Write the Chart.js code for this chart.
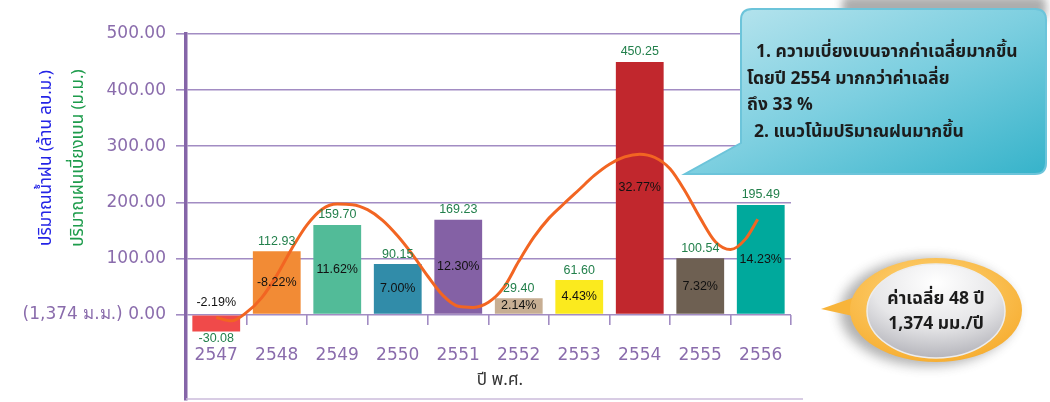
<!DOCTYPE html>
<html>
<head>
<meta charset="utf-8">
<script src="https://cdn.jsdelivr.net/npm/chart.js@4.4.1/dist/chart.umd.min.js"></script>
<style>
  html, body { margin: 0; padding: 0; background: #ffffff; }
  #wrap { position: relative; width: 1050px; height: 402px; overflow: hidden; }
  #chart { position: absolute; left: 0; top: 0; }
  #notes { position: absolute; left: 0; top: 0; pointer-events: none; }
  #notes text { font-family: "Noto Sans Thai", "Noto Sans", "DejaVu Sans", sans-serif; font-weight: 700; }
</style>
</head>
<body>
<div id="wrap">
  <canvas id="chart" width="1050" height="402"></canvas>
  <svg id="notes" width="1050" height="402" viewBox="0 0 1050 402">
    <defs>
      <linearGradient id="boxFill" x1="0" y1="0" x2="1" y2="1">
        <stop offset="0" stop-color="#BDE6EF"/>
        <stop offset="0.5" stop-color="#7DCFE0"/>
        <stop offset="1" stop-color="#36B3CA"/>
      </linearGradient>
      <radialGradient id="ringFill" cx="0.45" cy="0.35" r="0.7">
        <stop offset="0" stop-color="#FFD77E"/>
        <stop offset="1" stop-color="#F6AC2E"/>
      </radialGradient>
      <radialGradient id="coreFill" cx="0.5" cy="0.2" r="0.85">
        <stop offset="0" stop-color="#FFFFFF"/>
        <stop offset="0.55" stop-color="#E6E6E8"/>
        <stop offset="1" stop-color="#AEAEB5"/>
      </radialGradient>
      <filter id="soft4" x="-20%" y="-50%" width="140%" height="200%"><feGaussianBlur stdDeviation="4"/></filter>
      <filter id="soft6" x="-30%" y="-30%" width="160%" height="160%"><feGaussianBlur stdDeviation="6"/></filter>
    </defs>

    <!-- note box with pointer -->
    <rect x="842" y="-4" width="204" height="24" rx="6" fill="#6b6b6b" opacity="0.55" filter="url(#soft4)"/>
    <path d="M752 9 H1035 Q1046 9 1046 20 V163 Q1046 174 1035 174 H685 L741 143 V20 Q741 9 752 9 Z"
          fill="url(#boxFill)" stroke="#6CC4DA" stroke-width="2"/>
    <text x="756" y="57" font-size="17.5" fill="#1c1c1c">1. ความเบี่ยงเบนจากค่าเฉลี่ยมากขึ้น</text>
    <text x="747" y="84" font-size="17.5" fill="#1c1c1c">โดยปี 2554 มากกว่าค่าเฉลี่ย</text>
    <text x="747" y="110" font-size="17.5" fill="#1c1c1c">ถึง 33 %</text>
    <text x="754" y="137" font-size="17.5" fill="#1c1c1c">2. แนวโน้มปริมาณฝนมากขึ้น</text>

    <!-- average bubble -->
    <ellipse cx="928" cy="312" rx="88" ry="54" fill="#555" opacity="0.45" filter="url(#soft6)"/>
    <path d="M858 296 L821 309 L862 318 Z" fill="#F8B43A"/>
    <ellipse cx="936" cy="310" rx="86" ry="52" fill="url(#ringFill)"/>
    <ellipse cx="936" cy="311" rx="69" ry="47" fill="url(#coreFill)" stroke="#EDEDED" stroke-width="1.5"/>
    <text x="936" y="304" font-size="17.5" fill="#1c1c1c" text-anchor="middle">ค่าเฉลี่ย 48 ปี</text>
    <text x="936" y="329" font-size="17.5" fill="#1c1c1c" text-anchor="middle">1,374 มม./ปี</text>
  </svg>
</div>

<script>
// Rainfall deviation from the 48-year mean (1,374 mm), by Buddhist-era year
const years = ['2547', '2548', '2549', '2550', '2551', '2552', '2553', '2554', '2555', '2556'];
const deviationMm = [-30.08, 112.93, 159.70, 90.15, 169.23, 29.40, 61.60, 450.25, 100.54, 195.49];
const deviationPct = [-2.19, -8.22, 11.62, 7.00, 12.30, 2.14, 4.43, 32.77, 7.32, 14.23];
const barColors = ['#F04A4A', '#F28B35', '#52BB98', '#318CA9', '#8461A5', '#C7AE93', '#FBEA1E', '#C1272D', '#6E6052', '#00A99C'];

// Trend curve, sampled along the category index (0 = 2547 ... 9 = 2556)
const trendX = [0, 0.25, 0.5, 0.75, 1, 1.25, 1.5, 1.75, 2, 2.25, 2.5, 2.75, 3, 3.25, 3.5, 3.75, 4, 4.25, 4.5, 4.75,
                5, 5.25, 5.5, 5.75, 6, 6.25, 6.5, 6.75, 7, 7.25, 7.5, 7.75, 8, 8.25, 8.5, 8.75, 8.95];
const trendY = [-5, -11, 4, 30, 70, 118, 160, 188, 197, 196, 187, 168, 140, 106, 68, 34, 15, 13, 22, 48,
                95, 138, 172, 198, 223, 248, 268, 281, 286, 280, 260, 220, 172, 130, 116, 135, 170];

const yTicks = [0, 100, 200, 300, 400, 500];
const yTickLabels = ['(1,374 ม.ม.) 0.00', '100.00', '200.00', '300.00', '400.00', '500.00'];

const xTitle = 'ปี พ.ศ.';
const yTitleRain = 'ปริมาณน้ำฝน (ล้าน ลบ.ม.)';
const yTitleDev = 'ปริมาณฝนเบี่ยงเบน (ม.ม.)';

const PURPLE = '#8A6CAC';
const GRID = '#A28CC3';
const THAI = '"Noto Sans Thai", "Noto Sans", "DejaVu Sans", sans-serif';

const barLabels = {
  id: 'barLabels',
  afterDatasetsDraw(chart) {
    const ctx = chart.ctx;
    const meta = chart.getDatasetMeta(1);
    ctx.save();
    ctx.textAlign = 'center';
    ctx.textBaseline = 'middle';
    ctx.font = '12.5px "Liberation Sans", Arial, sans-serif';
    meta.data.forEach((bar, i) => {
      const v = deviationMm[i];
      ctx.fillStyle = '#23804C';
      if (v >= 0) ctx.fillText(v.toFixed(2), bar.x, bar.y - 10);
      else ctx.fillText(v.toFixed(2), bar.x, bar.y + 7);
      ctx.fillStyle = '#111111';
      const py = v >= 0 ? (bar.y + bar.base) / 2 : bar.base - 13;
      ctx.fillText(deviationPct[i].toFixed(2) + '%', bar.x, py);
    });
    ctx.restore();
  }
};

const frameText = {
  id: 'frameText',
  beforeDatasetsDraw(chart) {
    const {ctx, chartArea} = chart;
    ctx.save();
    ctx.strokeStyle = '#CBBBDB';
    ctx.lineWidth = 1.5;
    ctx.beginPath();
    ctx.moveTo(chartArea.left, chartArea.bottom - 1);
    ctx.lineTo(803, chartArea.bottom - 1);
    ctx.stroke();
    ctx.restore();
  },
  afterDraw(chart) {
    const ctx = chart.ctx;
    ctx.save();
    ctx.textAlign = 'center';
    ctx.textBaseline = 'middle';
    ctx.font = '17px ' + THAI;
    ctx.fillStyle = '#333333';
    ctx.fillText(xTitle, 500, 382);

    ctx.font = '17px ' + THAI;
    ctx.translate(48, 158);
    ctx.rotate(-Math.PI / 2);
    ctx.fillStyle = '#2424E6';
    ctx.fillText(yTitleRain, 0, 0);
    ctx.rotate(Math.PI / 2);
    ctx.translate(32, 0);
    ctx.rotate(-Math.PI / 2);
    ctx.fillStyle = '#1E9C4C';
    ctx.fillText(yTitleDev, 0, 0);
    ctx.restore();
  }
};

new Chart(document.getElementById('chart'), {
  data: {
    labels: years,
    datasets: [
      {
        type: 'line',
        xAxisID: 'xt',
        yAxisID: 'y',
        data: trendX.map((x, i) => ({x: x, y: trendY[i]})),
        borderColor: '#F26522',
        borderWidth: 3,
        pointRadius: 0,
        tension: 0.4,
        cubicInterpolationMode: 'monotone',
        order: 0
      },
      {
        type: 'bar',
        xAxisID: 'x',
        yAxisID: 'y',
        data: deviationMm,
        backgroundColor: barColors,
        borderWidth: 0,
        grouped: false,
        categoryPercentage: 1,
        barPercentage: 0.79,
        order: 1
      }
    ]
  },
  options: {
    responsive: false,
    animation: false,
    layout: { padding: { top: 34, right: 259, bottom: 2, left: 0 } },
    plugins: { legend: { display: false }, tooltip: { enabled: false } },
    scales: {
      x: {
        type: 'category',
        position: { y: 0 },
        offset: true,
        grid: { offset: true, drawOnChartArea: false, drawTicks: true, tickLength: 10, color: GRID, lineWidth: 1.6 },
        border: { display: false },
        ticks: { color: PURPLE, font: { family: '"DejaVu Sans", sans-serif', size: 17 }, padding: 21, maxRotation: 0 },
        afterFit(s) { s.height = 0; s.paddingLeft = 0; s.paddingRight = 0; s.paddingTop = 0; s.paddingBottom = 0; }
      },
      xt: { type: 'linear', min: -0.5, max: 9.5, display: false },
      y: {
        min: -152,
        max: 500,
        afterBuildTicks(s) { s.ticks = yTicks.map(v => ({ value: v })); },
        ticks: {
          color: PURPLE,
          font: { family: '"DejaVu Sans", sans-serif', size: 17 },
          padding: 10,
          callback(v) { return yTickLabels[yTicks.indexOf(v)]; }
        },
        grid: { color: GRID, lineWidth: 1.6, tickLength: 10, tickColor: GRID },
        border: { color: '#8565A8', width: 3.5 },
        afterFit(s) { s.width = 186; s.paddingTop = 0; s.paddingBottom = 0; }
      }
    }
  },
  plugins: [barLabels, frameText]
});
</script>
</body>
</html>
